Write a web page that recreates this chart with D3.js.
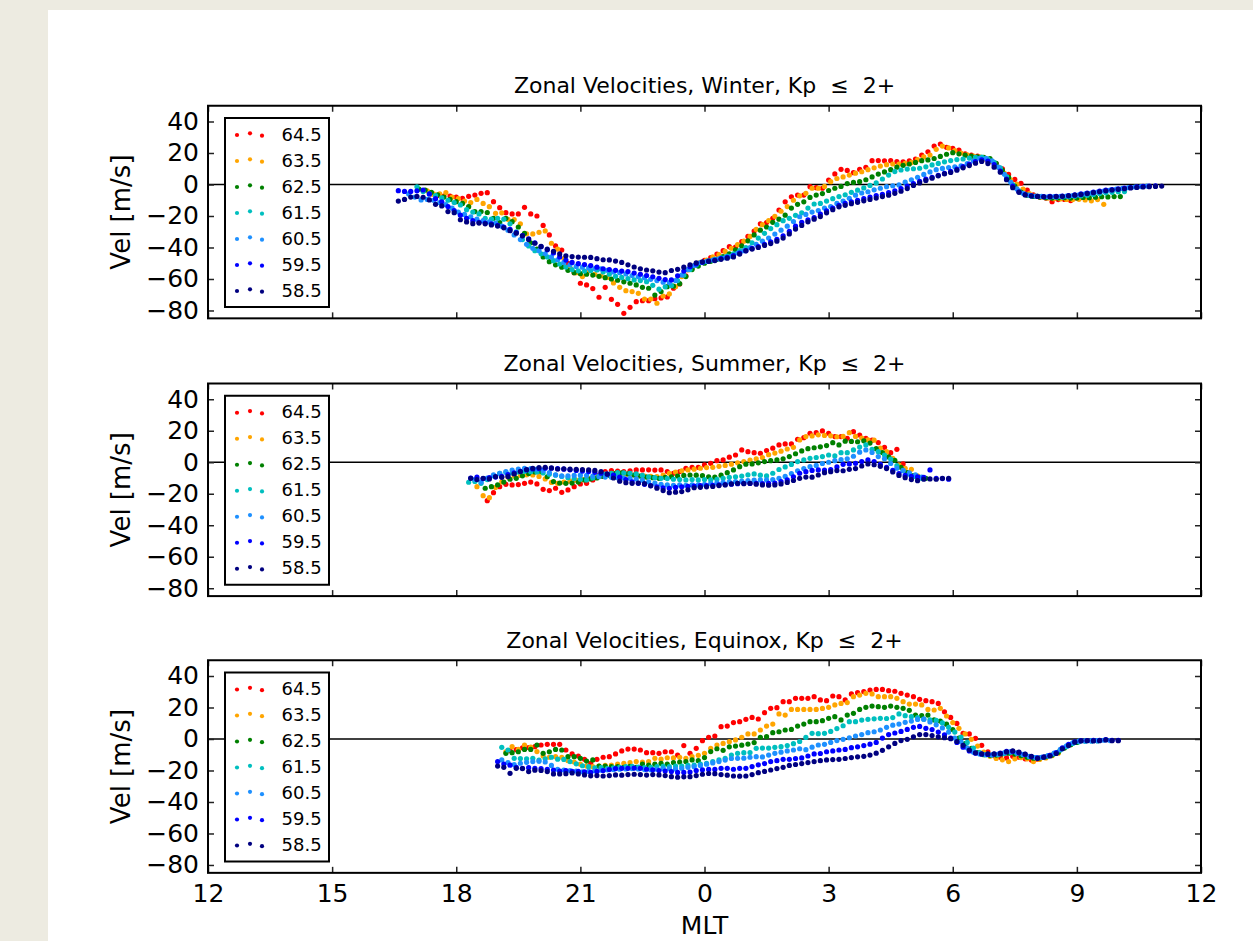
<!DOCTYPE html>
<html>
<head>
<meta charset="utf-8">
<script src="https://cdn.jsdelivr.net/npm/d3@7"></script>
<style>
  body { margin: 0; background: #edebe1; }
  svg { display: block; }
  text { font-family: 'DejaVu Sans', sans-serif; fill: #000; }
</style>
</head>
<body>
<div id="wrapper"></div>
<script>
// legend labels (magnetic latitude bins) and their colours, top to bottom
const latitudes = ['64.5', '63.5', '62.5', '61.5', '60.5', '59.5', '58.5'];
const colors = ['#ff0000', '#ffa500', '#008000', '#00bfbf', '#1e90ff', '#0000ff', '#000080'];

const titles = [
    'Zonal Velocities, Winter, Kp  \u2264  2+',
    'Zonal Velocities, Summer, Kp  \u2264  2+',
    'Zonal Velocities, Equinox, Kp  \u2264  2+'
];

const xTicks = [12, 15, 18, 21, 24, 27, 30, 33, 36];
const yTicks = [-80, -60, -40, -20, 0, 20, 40];
const mltStep = 0.15; // hours between MLT bins

// first MLT bin of each series (same order as latitudes)
const winterStart = [17.4, 17.3, 17.1, 17.05, 16.85, 16.6, 16.6];
const summerStart = [18.75, 18.5, 18.7, 18.3, 18.45, 18.35, 18.35];
const equinoxStart = [19.3, 19.2, 19.2, 19.1, 19.1, 19.0, 19.0];

// ---- Winter ----
const winter645 = [-6,-7,-7.3,-7.3,-8,-8.8,-7.5,-6.7,-5.6,-5.2,
-10.9,-14.7,-17.9,-18.7,-18.7,-14.5,-18.7,-20,-26,-32,
-39,-41.6,-50,-56,-62.7,-63.8,-66.1,-71.6,-65.3,-72.9,
-76.1,-81.8,-78,-74.4,-73.8,-73.8,-72.5,-72,-71.4,-65.9,
-63.2,-58,-53.2,-50,-48.2,-46.5,-44.2,-42,-39.5,-39.8,
-36.3,-33,-29.6,-25,-24.2,-21.5,-16.2,-11,-7.8,-6.7,
-6.7,-1.4,-2,-2.4,2.8,6.7,9.6,8.9,7.5,9.6,
10.9,15.1,15.2,15,15.1,14.5,14.4,15,16.2,18.7,
20.8,24.4,25.7,23.6,23,21.9,19.5,18.6,18.1,16.4,
15,13.2,10,6.4,3.2,0.8,-3.5,-6.6,-8,-8.6,
-10.9,-9.6,-9.5,-10.2,-8.6,-8.2];
const winter635 = [-4,-6,-6,-5.2,-8,-9,-10.5,-11.5,-9.5,-12,
-14.1,-18.3,-18,-22.1,-22.3,-25,-31.4,-31.4,-30.4,-29.5,
-37.3,-41,-47,-53,-56,-58.5,-55,-57,-58,-59,
-62.5,-65.3,-67.4,-68,-69.1,-72.7,-72.7,-75.4,-70.8,-69.5,
-64.9,-58.5,-54.3,-51.5,-49.5,-48,-46,-44.5,-42.5,-40.5,
-38.2,-36,-33,-28.5,-25.5,-23,-20.2,-17,-14,-10,
-7.2,-5.6,-2.4,-2.4,-1.2,1.8,3.8,4.8,6,7.2,
8.1,9.4,10.6,11.7,12.6,13,13,13.4,14,15.8,
17.5,18.7,22.3,24.4,23.2,21.5,20,18.8,18,17.5,
16.2,14.5,11,7,3,0.2,-3,-5.8,-7.4,-8,
-8.6,-9,-9.2,-9.5,-9.6,-9.4,-9.8,-10.4,-9.6,-12.6];
const winter625 = [-3,-3.5,-5,-6.5,-8,-9.5,-10.9,-12,-14.1,-17.2,
-17.2,-17.8,-21.5,-24.2,-21.5,-23.6,-27,-31,-37,-41,
-46,-49,-51,-52.5,-54.5,-56,-56.6,-57,-57.5,-58.3,
-59.2,-60,-60.8,-61.8,-62.7,-63.8,-65.3,-65.9,-70.2,-68,
-64.9,-64.6,-63,-58.5,-54,-51.8,-50,-48.8,-47.5,-45.8,
-44,-41.5,-39,-35.8,-32,-29,-27,-24,-22,-19.5,
-15,-12.6,-11,-8.2,-6.7,-5.8,-3.8,-2.4,-1.2,0.6,
1.3,1.8,3,4.8,6.6,8,9.4,11,12.2,13,
14,15.1,15.6,16.5,17.8,19.2,20.2,19.5,18.6,18,
17.6,17.2,16.4,13.5,9,4.5,-1,-4.8,-6.8,-7.6,
-8,-8.4,-8.6,-8.5,-8.4,-8.6,-8.5,-8.2,-8.4,-8.1,
-7.8,-7.9,-7.7,-7.7];
const winter615 = [-1.5,-4.5,-6,-7,-8.5,-10,-11.5,-13,-16,-17.5,
-18.7,-21.5,-22,-21.5,-22,-25,-30,-35,-39,-42,
-44,-46,-48.4,-50.5,-52.4,-54,-54.8,-55,-54.6,-54.3,
-55.5,-57,-58.3,-59,-59.8,-60.6,-61,-61.7,-64,-66.5,
-65,-64.2,-61,-57.5,-54,-51.2,-49.5,-48.5,-47.5,-46.6,
-45.5,-44,-42,-40,-37,-34,-31,-28,-25.5,-23,
-21.5,-19.6,-18,-15,-12.4,-12,-10.5,-9,-7.7,-6.5,
-5,-3.6,-2.2,-0.6,1,3.5,6,8.2,9.2,9.8,
10,10.3,11.2,12.4,13.4,14.4,15.2,15.8,16.2,16.8,
17.2,17.4,16.2,14,10.6,5,0,-4,-6.2,-7.2,
-7.6,-7.8,-8,-8.1,-8,-7.8,-7.5,-7.2,-6.8,-6.3,
-5.8,-5.3,-5,-4.6,-4.5];
const winter605 = [-6,-8,-9.8,-9.5,-10,-11.5,-12.8,-15,-17.5,-19,
-20.5,-22,-23,-23.8,-24.5,-26.5,-29,-32,-35,-38,
-40.5,-42,-44,-46,-47.8,-49.5,-51,-52,-52.5,-53,
-53.4,-53.6,-54.5,-55.5,-56,-56.8,-57.8,-58.6,-59.2,-60.2,
-61,-62,-62.3,-61,-57.5,-54,-51.5,-49.6,-48.8,-48,
-47.2,-46.5,-45.5,-43.5,-42,-40,-38,-36,-34,-31.5,
-29,-26.5,-23.5,-20.5,-19,-17.5,-16.5,-15,-14,-12,
-10.5,-8.8,-6.8,-5.4,-4.6,-3.4,-2.4,-1.4,-0.8,-0.3,
1.5,3,4.6,6.4,8,9.4,10.2,10.8,11.2,11.8,
13.2,15,16.6,16.6,15,11,6.5,1.5,-2.8,-5.6,
-6.8,-7.4,-7.6,-7.8,-7.7,-7.5,-7.3,-7,-6.6,-6,
-5.4,-4.8,-4.2,-3.6,-3,-2.5,-2,-1.6,-1.3,-1];
const winter595 = [-3.9,-4.4,-4.4,-4,-3.5,-6,-9,-11,-14,-16.5,
-19.5,-21.5,-23,-24,-24.5,-25,-26,-27,-28.5,-30.5,
-32.5,-34.5,-37,-39.5,-41.5,-43.5,-46,-48,-49.5,-50.3,
-50.8,-51.5,-52.5,-53.5,-54,-54.5,-55,-55.3,-56.2,-57,
-57.8,-58.6,-59.6,-60.4,-60.6,-58,-55,-52.2,-50.5,-49.4,
-48.6,-48,-47,-46.2,-45.2,-43.6,-42,-40.6,-39.4,-38,
-36.5,-34.8,-32.6,-29.8,-26.5,-24,-22.5,-21,-18.8,-16.8,
-15,-13.2,-12,-11,-10,-9,-8,-7,-6.2,-5.2,
-4,-2.6,-1,0.6,2,3.4,4.6,5.8,7,8.3,
9.8,11.4,13,14.6,15.6,14.8,12.6,8.5,3.5,-1,
-4.6,-6.4,-7.2,-7.5,-7.7,-7.6,-7.5,-7.3,-7,-6.6,
-6,-5.4,-4.8,-4.2,-3.6,-3.2,-2.8,-2.3,-1.9,-1.5,
-1.2,-1,-0.8];
const winter585 = [-10.5,-9.5,-8,-7.6,-8.1,-9.8,-12.6,-13.6,-17.2,-17.9,
-22.4,-23.8,-24.9,-24.5,-25,-25.7,-26.4,-27.5,-29.3,-30.9,
-32.6,-34.9,-37.3,-39.3,-41.1,-42.4,-44.1,-45.3,-45.8,-46.1,
-46.2,-46.3,-47.1,-47.8,-47.9,-48.6,-49.5,-51,-52.4,-53.5,
-54.3,-54.8,-55.6,-56,-54.6,-53.9,-52.5,-51,-49.7,-49.1,
-48.8,-48.3,-47.5,-46.8,-46,-44.2,-42.1,-41,-40,-38.7,
-37.5,-36,-34,-31.4,-28.3,-26,-23.7,-22,-20.4,-18,
-16,-14.2,-13.2,-12.2,-11.3,-10.4,-9.5,-8.6,-7.7,-6.8,
-5.6,-4.3,-2.6,-0.6,1,2.6,4,5.5,6.8,7.6,
9.1,10.6,12,13.5,14.6,13.3,11,7.8,3,-2,
-5,-6.6,-7.3,-7.6,-7.8,-7.8,-7.7,-7.5,-7.2,-6.8,
-6.4,-5.8,-5.2,-4.6,-4,-3.5,-3.1,-2.7,-2.2,-1.9,
-1.6,-1.4,-1.2,-1];

// ---- Summer ----
const summer645 = [-24.4,-19.3,-15.5,-14,-14.4,-14.2,-13.4,-12.6,-13.8,-17.2,
-18,-16.5,-19.1,-17.6,-15.5,-13.8,-13.4,-11.2,-8.1,-5.9,
-5.3,-5.6,-5.9,-5.4,-4.9,-4.9,-4.8,-5,-4.9,-5.9,
-7,-5.9,-3.8,-3.2,-3.2,-1.7,-0.7,1,1.5,3.2,
4.6,7.8,6.7,6.1,5.7,7.4,8.9,11,11.6,11.6,
14.6,15.6,18.4,18.8,19.9,18.4,16.3,16.3,15.2,19.4,
17.3,15.2,14,12.5,9.5,6.1,8.2,-1.1];
const summer635 = [-15.5,-21.2,-22.5,-16,-12.5,-9.4,-8.6,-8.4,-8,-8.1,
-9,-10.6,-12.8,-13.4,-12.6,-12,-11.4,-11,-10.4,-9.6,
-8.8,-8.1,-7.4,-7,-7.6,-8.1,-8.6,-8.8,-9,-9.1,
-8.2,-7,-6.2,-5.4,-4.9,-4.4,-3.8,-3.4,-3.2,-2.6,
-2,-1.2,-0.4,0.4,1.4,2.2,3,4.8,5.8,7,
8.4,9.5,14.2,16.3,16.7,17.4,17,16.8,16.2,16.4,
18.8,16.4,15.4,14.2,14,8.9,6.7,2.5,-1.7,-3.8,
-4.5,-8.7];
const summer625 = [-16.5,-15.5,-14.4,-12.6,-10.8,-10.2,-8.6,-7.2,-6.2,-5.9,
-9.2,-12.3,-13.2,-13.4,-13.2,-12.6,-11.2,-10.6,-10,-9,
-8.2,-7,-6.8,-7.4,-8.1,-8.8,-9.4,-9.8,-10.2,-9.6,
-9.2,-8.8,-8.4,-8.1,-8.2,-8.5,-9.2,-9.5,-8.2,-6.6,
-4.9,-2.8,-1.2,-1.1,-0.4,0.4,1,1.5,2.2,3.6,
5.4,7.2,8.6,9.2,9.8,10.6,12.4,11,13.4,13.2,
13,13.6,12.2,8.6,6.2,3.4,1.2,-3.2,-6.6,-8.5,
-9.6,-10.2];
const summer615 = [-12.7,-12.2,-13.4,-11,-8.6,-7,-6.4,-6.8,-6.2,-5.8,
-6,-6.2,-6.8,-7.6,-8.2,-9,-9.8,-10.4,-10.8,-11.2,
-10,-8.6,-7.6,-7,-6.6,-6.8,-7,-7.4,-8.4,-9.2,
-9.8,-10.2,-10.4,-10.8,-11,-11.2,-11,-11.2,-11,-11.2,
-10.8,-10.2,-9.6,-9.2,-8.8,-8,-7.4,-8.2,-8.7,-7,
-4.6,-3,-1.4,0.4,1.5,2.5,3,3.6,4.6,4,
6.1,6.1,7.8,9.6,11,8.2,6.7,4.6,2,-2.2,
-5.4,-7.4,-9,-10.2];
const summer605 = [-11,-12.6,-10,-8,-7,-6,-5,-4.3,-3.8,-4,
-4.4,-5.2,-6.5,-8,-8.7,-8.6,-8.4,-8.2,-8.4,-8.8,
-9.2,-9.4,-9.6,-9.8,-10,-10.2,-10.6,-11.4,-12.4,-13.2,
-14,-14.4,-14.6,-14.4,-14.6,-14.4,-14.4,-14,-13.5,-13.1,
-12.8,-12.4,-12.3,-12,-11.6,-11.4,-11.2,-11.2,-11,-10.2,
-9,-7.2,-5.4,-4,-2.8,-2,-0.8,0,1,1.6,
2.2,3.8,6.4,7.8,6.2,3.6,2.2,-0.8,-3.8,-5.2,
-6.8,-8,-9.5];
const summer595 = [-10,-9.5,-10.4,-9.8,-9.4,-9,-7.8,-6.8,-5.8,-4.9,
-4.3,-4,-3.8,-3.8,-4,-4.4,-4.8,-5.2,-5.6,-5.9,
-6.4,-7,-7.6,-8.1,-9.5,-11,-12.4,-13.4,-14,-14.8,
-15.6,-16.3,-16.5,-16,-15.6,-15.3,-15.1,-14.9,-14.8,-14.6,
-14.4,-14.2,-13.9,-13.6,-13.4,-13.5,-13.4,-13.6,-13.4,-13.2,
-12.3,-11.2,-9.2,-7,-6,-5.2,-4.9,-5,-4.6,-3,
-1.3,-1.1,-0.7,0.4,1.5,0.4,-1.3,-3.2,-5.2,-7.2,
-8.4,-9,-9.3,-9.6,-4.9,-10.2,-10.4,-10.8];
const summer585 = [-10.2,-11,-10.2,-10.6,-9.1,-9.6,-9.1,-7.4,-5.9,-4.6,
-3.8,-3.4,-3.2,-3.6,-4.3,-4.2,-4.4,-4.5,-4.7,-4.9,
-5.2,-5.9,-7.5,-10,-12,-13,-13.4,-13.2,-13.6,-15,
-16.5,-18,-19.3,-19,-18.6,-17.5,-16.2,-15.9,-15.6,-15.4,
-14.8,-14.4,-13.8,-13.4,-13.6,-13.4,-13.9,-14.4,-14.6,-14.4,
-13.8,-12.8,-11.6,-10.2,-9.4,-9.5,-8.1,-6.6,-6,-5.3,
-5.4,-4.5,-4,-2.4,-1.1,-1.6,-2.6,-4,-6.2,-8.4,
-9.8,-11,-11.7,-10.8,-10.6,-10.8,-10.2,-10.2];

// ---- Equinox ----
const equinox645 = [-7.4,-6.8,-5.6,-5.4,-4.9,-3.8,-3.4,-3.4,-3.4,-7,
-9.5,-10.8,-12.9,-15.5,-12.9,-11.6,-11.2,-9.5,-7.6,-6.4,
-6.4,-7,-8.7,-8.7,-9.1,-8.1,-8.1,-10.2,-4.2,-9.1,
-5.9,-1.1,1.1,1.9,7.8,8.2,10.4,11,12.5,13.7,
12.7,16.7,19.5,19.9,23.7,23.7,25.8,25.8,25.8,26.9,
24.8,24.3,27.3,26.9,24.8,28.6,29.4,30.1,31.1,31.5,
31.5,30.7,30.3,29,27.9,26.9,25.2,24.3,23.7,22.6,
17.3,13.7,9.9,3.6,3.2,0.4,-4,-8.2,-10.6,-11.6,
-12,-11,-11.6,-12.6,-13.4,-12.8,-11.6,-10.4];
const equinox635 = [-8.1,-4.9,-6.6,-3.8,-5.2,-8,-10.8,-11.6,-11.2,-11.6,
-13.8,-14.6,-16,-17.2,-17.6,-17.2,-16.8,-16.5,-16,-15.4,
-15,-14.4,-14.6,-14.4,-12.3,-12.8,-11.9,-12,-11.6,-12.3,
-11.2,-10.4,-9.1,-5.9,-3.8,-2.8,-1.7,-0.6,1.1,3.2,
3.2,5.7,8.2,9.5,15.9,15.2,18.8,18.8,18.8,18.8,
18.8,19.4,20.1,21.6,22.6,23.1,26.9,27.9,29,28.6,
26.9,26.9,26.9,25.8,23.7,22.2,22.2,21.6,18.8,18.4,
19.5,14.6,10.4,6.8,3.2,-0.2,-4.5,-8.4,-11,-12.4,
-13.2,-14.4,-12.6,-11.8,-12.6,-14.4,-13,-12,-10.6,-9];
const equinox625 = [-9.1,-8.7,-8.1,-6.6,-6.6,-3.8,-9.1,-8.1,-6.6,-7,
-11.2,-11.2,-12.3,-14,-13.3,-17.2,-17.2,-17.6,-17.6,-18,
-17.4,-18,-15.9,-16.5,-16,-15.5,-15.9,-15,-14.6,-14.4,
-13.3,-13.8,-11.8,-8,-6.2,-7.2,-5,-4.5,-3.9,-3.2,
-2.3,1.1,1.5,4,4.6,5.7,6.1,8.2,9.5,11,
11,11.6,13.1,14.2,12.1,15.2,16.3,18.8,20.1,20.9,
20.5,20.1,20.9,20.1,19.5,18.2,15.2,14.8,15.2,12.1,
11.4,9.4,6,0.5,-3,-6,-8.6,-10,-10.4,-10.2,
-9.4,-9,-9.6,-10.6,-11.6,-12.2,-12,-11.2,-10.2,-8.4,
-5.8,-3.6,-2.2];
const equinox615 = [-5.3,-7,-12.3,-12.4,-12.6,-12.3,-13.4,-12.6,-11.6,-12.8,
-13,-14.4,-15.8,-17,-17.6,-18.4,-18.2,-18.8,-18.4,-18,
-17.6,-17.4,-17.8,-18.2,-18,-17.6,-17.4,-17.6,-17.2,-17.2,
-16.8,-16.6,-16,-15.5,-14.4,-13.3,-12.3,-10.2,-9.1,-8.7,
-8.6,-5.9,-5.8,-5.8,-5.3,-4.9,-4.2,-3,-1.6,1,
3.6,3.4,3.6,4.8,6.6,8.4,11,11,12,12.5,
12.8,13.1,13,13.6,15.9,14.8,14.2,13.6,12.6,12.1,
11.8,10.2,7.4,4.4,1.2,-2.2,-5.8,-8.6,-10,-10.2,
-10,-9.2,-8.4,-9,-10,-11.2,-11.8,-11.6,-10.8,-9.4,
-7,-4.8,-2.8,-1.8,-1.4,-1.2,-1.2];
const equinox605 = [-13.3,-15,-16.2,-15.4,-14.8,-14.4,-14.2,-14.6,-16.8,-19.2,
-19.7,-20,-20.4,-20.8,-20.6,-20.2,-19.8,-19.6,-19.4,-19.2,
-19,-18.8,-19,-19.4,-19.6,-19.2,-18.8,-18.8,-19,-18.6,
-18,-17.6,-16.8,-16,-15.2,-14.4,-13.4,-12.4,-12.3,-12.2,
-11.6,-11.2,-11.4,-10.2,-9.1,-8.4,-7.6,-7,-6.2,-6.8,
-5.2,-3.8,-3.4,-2.2,-1,-0.2,0.8,1.9,2.8,4,
4.6,5.7,7.4,8.8,9.5,10.6,11.4,12.4,12.6,10.8,
9,7,4.4,0.6,-1.8,-5.6,-8.4,-9.6,-10,-10,
-9.6,-8.6,-8,-8.8,-9.8,-11,-11.8,-11.6,-10.6,-9,
-6.6,-4.4,-2.4,-1.4,-1.2,-1.2,-1.1,-0.8,-1];
const equinox595 = [-14.4,-15.9,-16.6,-18,-18.6,-18.2,-18.6,-18.8,-19.2,-19.7,
-20.4,-20,-20.6,-20.6,-20.8,-21.2,-20.6,-20,-19.4,-18.8,
-18.6,-18.6,-18.5,-18.6,-19.2,-19.6,-20,-20.4,-20.7,-21.2,
-21.2,-21,-20,-19.6,-19.3,-19.3,-18.6,-18.6,-19.2,-18.6,
-18.6,-17.5,-16.4,-15.6,-14.4,-13.8,-12.9,-12.9,-12.4,-12,
-10.8,-9.5,-9.2,-8.1,-7.6,-7,-6.6,-5.5,-5,-4.2,
-3.3,-2.2,0.6,2.8,3.8,4.8,6.1,7.4,8,6.8,
6,4.4,2.6,0.5,-2.2,-5.2,-7.6,-9,-9.6,-9.8,
-9.6,-9,-7.8,-7.8,-8.8,-9.8,-11.2,-12,-11.4,-10.4,
-8.6,-5.6,-3.4,-1.8,-1,-1,-0.8,-0.8,-0.4,-0.8,
-0.8];
const equinox585 = [-17.2,-18,-21.8,-18.6,-18.8,-20.7,-19.8,-20,-20.7,-22.2,
-22.2,-22,-21.6,-22.2,-22.8,-23.4,-23.2,-23.5,-23.2,-22.8,
-23,-22.6,-22.4,-22.6,-22.9,-22.6,-22.8,-23.2,-23.9,-24.3,
-24,-23.9,-23.2,-22.4,-21.9,-22,-22.6,-23,-23.5,-23.6,
-23.5,-22.6,-21.4,-20.6,-19.7,-18.8,-18,-16.8,-16.2,-15.6,
-15,-14.4,-13.8,-13.3,-13.1,-12.9,-12.4,-11.8,-11.3,-11,
-10.2,-9,-7.2,-5,-2.8,-1,-0.2,1.4,2.8,2.8,
2.2,1.4,0.8,0.2,-1.6,-4,-7,-8.8,-9.5,-9.5,
-9.5,-9.3,-8.2,-7.6,-8.4,-9.6,-11,-12.3,-11.6,-10.8,
-9.2,-6.2,-4.2,-2,-1.2,-1.1,-1.2,-1.1,-0.6,-1.1,
-1.1];

const panels = [
    { title: titles[0], starts: winterStart,
      series: [winter645, winter635, winter625, winter615, winter605, winter595, winter585] },
    { title: titles[1], starts: summerStart,
      series: [summer645, summer635, summer625, summer615, summer605, summer595, summer585] },
    { title: titles[2], starts: equinoxStart,
      series: [equinox645, equinox635, equinox625, equinox615, equinox605, equinox595, equinox585] }
];

function drawFigure() {

    // 1. Dimensions
    const dimensions = {
        width: 1253,
        height: 941,
        left: 208,
        right: 1201,
        panelTops: [105.75, 383.5, 660.25],
        panelHeight: 212.6,
    };

    // 2. Draw canvas
    const wrapper = d3.select('#wrapper')
        .append('svg')
        .attr('width', dimensions.width)
        .attr('height', dimensions.height);

    wrapper.append('rect')
        .attr('x', 48)
        .attr('y', 10)
        .attr('width', dimensions.width - 48)
        .attr('height', dimensions.height - 10)
        .attr('fill', '#ffffff');

    // 3. Shared x scale (MLT hours, 12 -> 12 next day)
    const xScale = d3.scaleLinear()
        .domain([12, 36])
        .range([dimensions.left, dimensions.right]);

    panels.forEach((panel, p) => {
        const top = dimensions.panelTops[p];
        const yScale = d3.scaleLinear()
            .domain([-85, 50])
            .range([top + dimensions.panelHeight, top]);
        drawPanel(wrapper, panel, xScale, yScale, dimensions, p === panels.length - 1);
    });

    // x label under the last panel
    wrapper.append('text')
        .attr('x', (dimensions.left + dimensions.right) / 2)
        .attr('y', 934)
        .attr('text-anchor', 'middle')
        .attr('font-size', '25px')
        .text('MLT');
}

function drawPanel(svg, panel, xScale, yScale, dimensions, showXLabels) {
    const [y0, y1] = yScale.range();
    const g = svg.append('g');

    // zero line
    g.append('line')
        .attr('x1', dimensions.left)
        .attr('x2', dimensions.right)
        .attr('y1', yScale(0))
        .attr('y2', yScale(0))
        .attr('stroke', '#000')
        .attr('stroke-width', 1.6);

    // 4. Draw data, red first so the dark blues sit on top
    panel.series.forEach((values, s) => {
        const start = panel.starts[s];
        const points = values.map((v, i) => ({ mlt: start + i * mltStep, vel: v }));
        g.append('g')
            .selectAll('circle')
            .data(points)
            .join('circle')
            .attr('cx', d => xScale(d.mlt))
            .attr('cy', d => yScale(d.vel))
            .attr('r', 2.6)
            .attr('fill', colors[s]);
    });

    // 5. Axes, ticks pointing inwards on all four sides
    const bottomAxis = g.append('g')
        .attr('transform', `translate(0, ${y0})`)
        .call(d3.axisBottom(xScale)
            .tickValues(xTicks)
            .tickSize(-6)
            .tickPadding(11)
            .tickFormat(d => showXLabels ? d % 24 : ''));

    const topAxis = g.append('g')
        .attr('transform', `translate(0, ${y1})`)
        .call(d3.axisTop(xScale).tickValues(xTicks).tickSize(-6).tickFormat(''));

    const leftAxis = g.append('g')
        .attr('transform', `translate(${dimensions.left}, 0)`)
        .call(d3.axisLeft(yScale)
            .tickValues(yTicks)
            .tickSize(-6)
            .tickPadding(9));

    const rightAxis = g.append('g')
        .attr('transform', `translate(${dimensions.right}, 0)`)
        .call(d3.axisRight(yScale).tickValues(yTicks).tickSize(-6).tickFormat(''));

    [bottomAxis, topAxis, leftAxis, rightAxis].forEach(axis => {
        axis.select('.domain').remove();
        axis.selectAll('.tick line').attr('stroke', '#222').attr('stroke-width', 1.5);
        axis.selectAll('.tick text')
            .attr('font-family', 'DejaVu Sans')
            .attr('font-size', '25px')
            .attr('fill', '#000');
    });

    // frame
    g.append('rect')
        .attr('x', dimensions.left)
        .attr('y', y1)
        .attr('width', dimensions.right - dimensions.left)
        .attr('height', y0 - y1)
        .attr('fill', 'none')
        .attr('stroke', '#000')
        .attr('stroke-width', 2);

    // title
    g.append('text')
        .attr('x', (dimensions.left + dimensions.right) / 2)
        .attr('y', y1 - 12.5)
        .attr('text-anchor', 'middle')
        .attr('font-size', '22px')
        .style('white-space', 'pre')
        .text(panel.title);

    // y label
    g.append('text')
        .attr('transform', `translate(130, ${(y0 + y1) / 2}) rotate(-90)`)
        .attr('text-anchor', 'middle')
        .attr('font-size', '26px')
        .text('Vel [m/s]');

    // 6. Legend
    const legend = g.append('g')
        .attr('transform', `translate(${dimensions.left + 17}, ${y1 + 12.25})`);

    legend.append('rect')
        .attr('width', 104)
        .attr('height', 189)
        .attr('fill', '#ffffff')
        .attr('stroke', '#000')
        .attr('stroke-width', 2);

    const dotOffsets = [[12, 0], [25, -1.7], [37, 0.7]];
    latitudes.forEach((lat, i) => {
        const rowY = 17 + i * 26;
        dotOffsets.forEach(([dx, dy]) => {
            legend.append('circle')
                .attr('cx', dx)
                .attr('cy', rowY + dy)
                .attr('r', 2.1)
                .attr('fill', colors[i]);
        });
        legend.append('text')
            .attr('x', 56.5)
            .attr('y', rowY + 5.5)
            .attr('font-size', '18px')
            .text(lat);
    });
}

drawFigure();
</script>
</body>
</html>
